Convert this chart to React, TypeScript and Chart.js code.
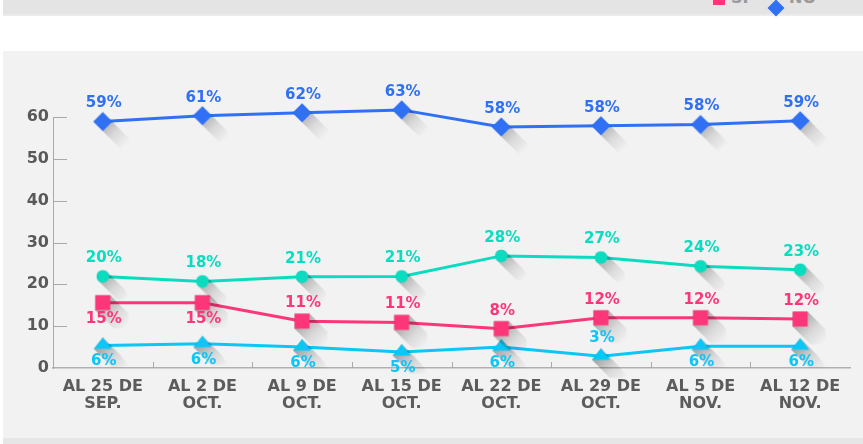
import React, { useEffect, useRef } from "react";
import { Chart, registerables } from "chart.js";

Chart.register(...registerables);

const categories: string[][] = [
  ["AL 25 DE", "SEP."],
  ["AL 2 DE", "OCT."],
  ["AL 9 DE", "OCT."],
  ["AL 15 DE", "OCT."],
  ["AL 22 DE", "OCT."],
  ["AL 29 DE", "OCT."],
  ["AL 5 DE", "NOV."],
  ["AL 12 DE", "NOV."],
];

const noValues = [58.9, 60.3, 61.0, 61.7, 57.6, 57.9, 58.2, 59.1];
const noLabels = [59, 61, 62, 63, 58, 58, 58, 59];
const noLabelPos = ["above", "above", "above", "above", "above", "above", "above", "above"];

const greenValues = [21.9, 20.7, 21.8, 21.9, 26.8, 26.4, 24.3, 23.5];
const greenLabels = [20, 18, 21, 21, 28, 27, 24, 23];
const greenLabelPos = ["above", "above", "above", "above", "above", "above", "above", "above"];

const siValues = [15.6, 15.6, 11.2, 10.9, 9.4, 12.0, 12.0, 11.7];
const siLabels = [15, 15, 11, 11, 8, 12, 12, 12];
const siLabelPos = ["below", "below", "above", "above", "above", "above", "above", "above"];

const cyanValues = [5.4, 5.8, 5.0, 3.8, 5.0, 2.8, 5.2, 5.2];
const cyanLabels = [6, 6, 6, 5, 6, 3, 6, 6];
const cyanLabelPos = ["below", "below", "below", "below", "below", "above", "below", "below"];

const yTicks = [0, 10, 20, 30, 40, 50, 60];

const BLUE = "#2f70f4";
const GREEN = "#0adcc0";
const PINK = "#fc3779";
const CYAN = "#0bc6f7";
const FONT = "'DejaVu Sans', 'Open Sans', sans-serif";

type Pt = [number, number];

function hull(points: Pt[]): Pt[] {
  const p = points.slice().sort((a, b) => (a[0] === b[0] ? a[1] - b[1] : a[0] - b[0]));
  const cross = (o: Pt, a: Pt, b: Pt) => (a[0] - o[0]) * (b[1] - o[1]) - (a[1] - o[1]) * (b[0] - o[0]);
  const lower: Pt[] = [];
  for (const q of p) {
    while (lower.length >= 2 && cross(lower[lower.length - 2], lower[lower.length - 1], q) <= 0) lower.pop();
    lower.push(q);
  }
  const upper: Pt[] = [];
  for (let i = p.length - 1; i >= 0; i--) {
    const q = p[i];
    while (upper.length >= 2 && cross(upper[upper.length - 2], upper[upper.length - 1], q) <= 0) upper.pop();
    upper.push(q);
  }
  upper.pop();
  lower.pop();
  return lower.concat(upper);
}

function shapeVerts(shape: string): Pt[] {
  if (shape === "diamond") return [[0, -9.5], [9.5, 0], [0, 9.5], [-9.5, 0]];
  if (shape === "square") return [[-7.5, -7.5], [7.5, -7.5], [7.5, 7.5], [-7.5, 7.5]];
  if (shape === "triangle") return [[0, -8], [9, 3.4], [-9, 3.4]];
  const v: Pt[] = [];
  for (let i = 0; i < 32; i++) {
    const a = (i / 32) * Math.PI * 2;
    v.push([Math.cos(a) * 6.2, Math.sin(a) * 6.2]);
  }
  return v;
}

function makePoint(shape: string, color: string): HTMLCanvasElement {
  const L = 18;
  const half = 34;
  const c = document.createElement("canvas");
  c.width = half * 2;
  c.height = half * 2;
  const ctx = c.getContext("2d")!;
  const verts = shapeVerts(shape);
  const all: Pt[] = verts.concat(verts.map(([x, y]) => [x + L, y + L] as Pt));
  const h = hull(all);
  const g = ctx.createLinearGradient(half, half, half + L + 6, half + L + 6);
  g.addColorStop(0, "rgba(0,0,0,0.30)");
  g.addColorStop(0.5, "rgba(0,0,0,0.10)");
  g.addColorStop(1, "rgba(0,0,0,0)");
  ctx.fillStyle = g;
  ctx.beginPath();
  h.forEach(([x, y], i) => (i ? ctx.lineTo(half + x, half + y) : ctx.moveTo(half + x, half + y)));
  ctx.closePath();
  ctx.fill();
  ctx.fillStyle = color;
  ctx.beginPath();
  verts.forEach(([x, y], i) => (i ? ctx.lineTo(half + x, half + y) : ctx.moveTo(half + x, half + y)));
  ctx.closePath();
  ctx.fill();
  return c;
}

const labelSets = [
  { labels: noLabels, pos: noLabelPos, color: BLUE },
  { labels: greenLabels, pos: greenLabelPos, color: GREEN },
  { labels: siLabels, pos: siLabelPos, color: PINK },
  { labels: cyanLabels, pos: cyanLabelPos, color: CYAN },
];

const ticksPlugin = {
  id: "innerTicks",
  afterDatasetsDraw(chart: any) {
    const { ctx, chartArea, scales } = chart;
    const x = scales.x;
    const y = scales.y;
    ctx.save();
    ctx.strokeStyle = "#a9a9a9";
    ctx.lineWidth = 1;
    ctx.beginPath();
    yTicks.forEach((v) => {
      if (v === 0) return;
      const py = Math.round(y.getPixelForValue(v)) + 0.5;
      ctx.moveTo(chartArea.left, py);
      ctx.lineTo(chartArea.left + 14, py);
    });
    for (let i = 1; i < categories.length; i++) {
      const px = Math.round((x.getPixelForValue(i - 1) + x.getPixelForValue(i)) / 2) + 0.5;
      ctx.moveTo(px, chartArea.bottom);
      ctx.lineTo(px, chartArea.bottom - 6);
    }
    ctx.stroke();
    ctx.restore();
  },
};

const labelsPlugin = {
  id: "valueLabels",
  afterDatasetsDraw(chart: any) {
    const ctx = chart.ctx;
    ctx.save();
    ctx.font = `700 15px ${FONT}`;
    ctx.textAlign = "center";
    ctx.textBaseline = "middle";
    labelSets.forEach((set, i) => {
      const meta = chart.getDatasetMeta(i);
      meta.data.forEach((pt: any, j: number) => {
        const above = set.pos[j] === "above";
        ctx.fillStyle = set.color;
        ctx.fillText(`${set.labels[j]}%`, pt.x + 1, pt.y + (above ? -18 : 16));
      });
    });
    ctx.restore();
  },
};

export default function App() {
  const ref = useRef<HTMLCanvasElement | null>(null);

  useEffect(() => {
    const canvas = ref.current;
    if (!canvas) return;
    const mk = (label: string, data: number[], color: string, shape: string) => ({
      label,
      data,
      borderColor: color,
      backgroundColor: color,
      borderWidth: 3,
      tension: 0,
      clip: false as any,
      pointStyle: makePoint(shape, color),
      pointRadius: 10,
    });
    const chart = new Chart(canvas, {
      type: "line",
      data: {
        labels: categories as any,
        datasets: [
          mk("NO", noValues, BLUE, "diamond"),
          mk("NS/NC", greenValues, GREEN, "circle"),
          mk("SÍ", siValues, PINK, "square"),
          mk("OTRO", cyanValues, CYAN, "triangle"),
        ],
      },
      options: {
        animation: false,
        responsive: false,
        devicePixelRatio: 1,
        layout: { padding: { top: 117, right: 10, bottom: 16, left: 0 } },
        plugins: { legend: { display: false }, tooltip: { enabled: false } },
        scales: {
          x: {
            type: "category",
            offset: true,
            grid: { display: false, drawTicks: false },
            border: { display: true, color: "#b0b0b0", width: 1.5 },
            ticks: {
              color: "#5c5c5c",
              font: { family: FONT, size: 16, weight: "bold", lineHeight: 1.03 },
              padding: 11,
              maxRotation: 0,
              autoSkip: false,
            },
            afterFit: (s: any) => {
              s.height = 60;
            },
          },
          y: {
            min: 0,
            max: 60,
            grid: { display: false, drawTicks: false },
            border: { display: true, color: "#a9a9a9", width: 1 },
            ticks: {
              stepSize: 10,
              color: "#595959",
              font: { family: FONT, size: 16, weight: "bold" },
              padding: 4,
            },
            afterFit: (s: any) => {
              s.width = 53;
            },
          },
        },
      },
      plugins: [ticksPlugin, labelsPlugin],
    });
    return () => chart.destroy();
  }, []);

  const legendText: React.CSSProperties = {
    position: "absolute",
    top: -11,
    fontFamily: FONT,
    fontWeight: 700,
    fontSize: 16,
    lineHeight: "17px",
    color: "#9a9a9a",
    whiteSpace: "nowrap",
  };

  return (
    <div
      style={{
        position: "absolute",
        left: 0,
        top: 0,
        width: 863,
        height: 444,
        overflow: "hidden",
        background: "#ffffff",
      }}
    >
      <div style={{ position: "absolute", left: 3, top: 0, width: 860, height: 14, background: "#e4e4e4" }} />
      <div style={{ position: "absolute", left: 3, top: 14, width: 860, height: 2, background: "#ececec" }} />
      <div style={{ position: "absolute", left: 713, top: -6, width: 12, height: 11, background: PINK }} />
      <div style={{ ...legendText, left: 731 }}>SÍ</div>
      <div
        style={{
          position: "absolute",
          left: 770,
          top: 1.5,
          width: 12,
          height: 12,
          background: BLUE,
          transform: "rotate(45deg)",
        }}
      />
      <div style={{ ...legendText, left: 789 }}>NO</div>
      <div style={{ position: "absolute", left: 3, top: 51, width: 860, height: 387, background: "#f2f2f2" }} />
      <div style={{ position: "absolute", left: 3, top: 438, width: 860, height: 6, background: "#e6e6e6" }} />
      <canvas
        ref={ref}
        width={863}
        height={444}
        style={{ position: "absolute", left: 0, top: 0, width: 863, height: 444 }}
      />
    </div>
  );
}
